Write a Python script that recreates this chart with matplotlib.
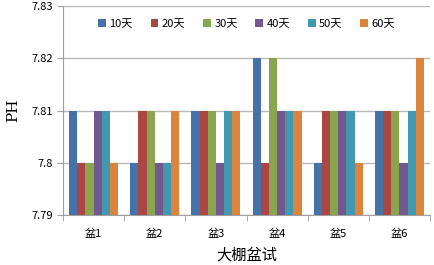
import matplotlib.pyplot as plt
import numpy as np

plt.rcParams['font.family'] = ['Noto Sans CJK SC', 'DejaVu Sans']

pots = ['盆1', '盆2', '盆3', '盆4', '盆5', '盆6']
days = ['10天', '20天', '30天', '40天', '50天', '60天']
ph = [
    [7.81, 7.80, 7.81, 7.82, 7.80, 7.81],  # 10天
    [7.80, 7.81, 7.81, 7.80, 7.81, 7.81],  # 20天
    [7.80, 7.81, 7.81, 7.82, 7.81, 7.81],  # 30天
    [7.81, 7.80, 7.80, 7.81, 7.81, 7.80],  # 40天
    [7.81, 7.80, 7.81, 7.81, 7.81, 7.81],  # 50天
    [7.80, 7.81, 7.81, 7.81, 7.80, 7.82],  # 60天
]
colors = ['#4572A7', '#AA4643', '#89A54E', '#71588F', '#4198AF', '#DB843D']

fig = plt.figure(figsize=(4.34, 2.65), dpi=100)
ax = fig.add_axes([0.145, 0.189, 0.846, 0.788])

x = np.arange(len(pots))
w = 0.8 / len(days)
base = 7.79
for i, (lab, vals) in enumerate(zip(days, ph)):
    h = np.array(vals) - base
    ax.bar(x - 0.4 + w * (i + 0.5), h, w, bottom=base, color=colors[i],
           label=lab, zorder=3)

ax.set_xlim(-0.5, len(pots) - 0.5)
ax.set_ylim(7.79, 7.83)
ax.set_yticks([7.79, 7.80, 7.81, 7.82, 7.83])
ax.set_yticklabels(['7.79', '7.8', '7.81', '7.82', '7.83'], fontsize=8)
ax.set_xticks(x)
ax.set_xticklabels(pots, fontsize=8)
ax.set_xticks(np.arange(len(pots) + 1) - 0.5, minor=True)
ax.tick_params(axis='x', which='major', length=0, pad=10)
ax.tick_params(axis='x', which='minor', length=4, color='#A0A0A0')
ax.tick_params(axis='y', length=4, color='#A0A0A0', pad=3)

ax.yaxis.grid(True, color='#B8B8B8', linewidth=1, zorder=0)
for s in ['top', 'right']:
    ax.spines[s].set_visible(False)
for s in ['left', 'bottom']:
    ax.spines[s].set_color('#A0A0A0')

ax.set_ylabel('PH', fontsize=11, family='DejaVu Serif', labelpad=8)
ax.set_xlabel('大棚盆试', fontsize=11, labelpad=5)

ax.legend(loc='upper center', bbox_to_anchor=(0.5, 0.985), ncol=6,
          frameon=False, fontsize=8, handlelength=0.7, handleheight=0.7,
          handletextpad=0.3, columnspacing=1.6)

fig.savefig('out.png', dpi=100)
